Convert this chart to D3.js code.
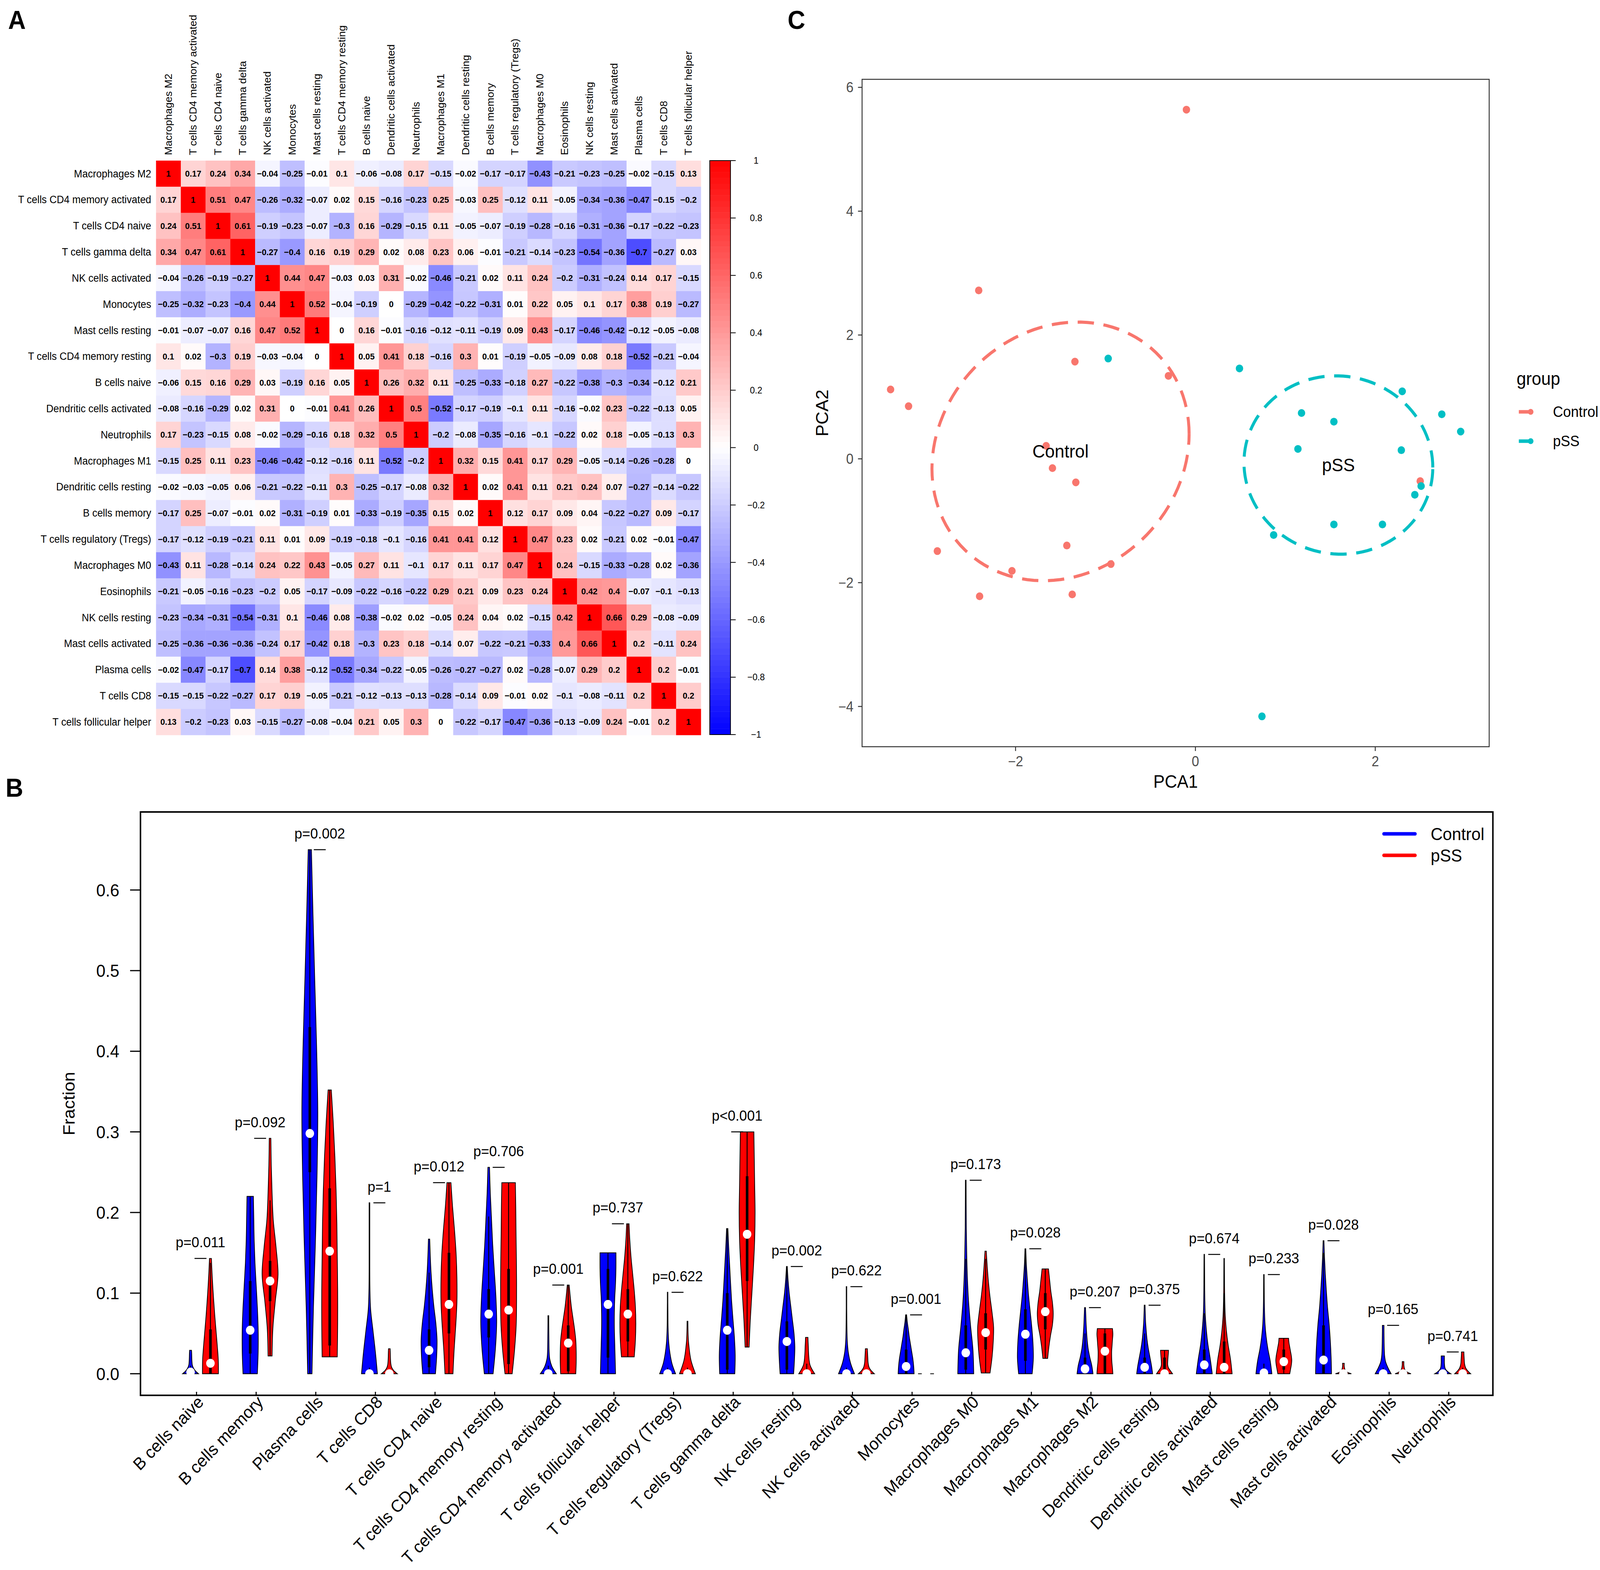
<!DOCTYPE html>
<html>
<head>
<meta charset="utf-8">
<script src="https://cdn.jsdelivr.net/npm/d3@7"></script>
<style>
  html, body { margin: 0; padding: 0; background: #fff; overflow: hidden; }
  svg { display: block; width: 100vw; height: 100vh; }
  text { font-family: "Liberation Sans", Arial, Helvetica, sans-serif; }
</style>
</head>
<body>
<svg id="fig" viewBox="0 0 4317 4018" preserveAspectRatio="none"></svg>
<script>
// ---------- panel A: correlation matrix ----------
const corrCells = [
  "Macrophages M2", "T cells CD4 memory activated", "T cells CD4 naive", "T cells gamma delta",
  "NK cells activated", "Monocytes", "Mast cells resting", "T cells CD4 memory resting",
  "B cells naive", "Dendritic cells activated", "Neutrophils", "Macrophages M1",
  "Dendritic cells resting", "B cells memory", "T cells regulatory (Tregs)", "Macrophages M0",
  "Eosinophils", "NK cells resting", "Mast cells activated", "Plasma cells",
  "T cells CD8", "T cells follicular helper"
];
const corr = [
  [1, 0.17, 0.24, 0.34, -0.04, -0.25, -0.01, 0.1, -0.06, -0.08, 0.17, -0.15, -0.02, -0.17, -0.17, -0.43, -0.21, -0.23, -0.25, -0.02, -0.15, 0.13],
  [0.17, 1, 0.51, 0.47, -0.26, -0.32, -0.07, 0.02, 0.15, -0.16, -0.23, 0.25, -0.03, 0.25, -0.12, 0.11, -0.05, -0.34, -0.36, -0.47, -0.15, -0.2],
  [0.24, 0.51, 1, 0.61, -0.19, -0.23, -0.07, -0.3, 0.16, -0.29, -0.15, 0.11, -0.05, -0.07, -0.19, -0.28, -0.16, -0.31, -0.36, -0.17, -0.22, -0.23],
  [0.34, 0.47, 0.61, 1, -0.27, -0.4, 0.16, 0.19, 0.29, 0.02, 0.08, 0.23, 0.06, -0.01, -0.21, -0.14, -0.23, -0.54, -0.36, -0.7, -0.27, 0.03],
  [-0.04, -0.26, -0.19, -0.27, 1, 0.44, 0.47, -0.03, 0.03, 0.31, -0.02, -0.46, -0.21, 0.02, 0.11, 0.24, -0.2, -0.31, -0.24, 0.14, 0.17, -0.15],
  [-0.25, -0.32, -0.23, -0.4, 0.44, 1, 0.52, -0.04, -0.19, 0, -0.29, -0.42, -0.22, -0.31, 0.01, 0.22, 0.05, 0.1, 0.17, 0.38, 0.19, -0.27],
  [-0.01, -0.07, -0.07, 0.16, 0.47, 0.52, 1, 0, 0.16, -0.01, -0.16, -0.12, -0.11, -0.19, 0.09, 0.43, -0.17, -0.46, -0.42, -0.12, -0.05, -0.08],
  [0.1, 0.02, -0.3, 0.19, -0.03, -0.04, 0, 1, 0.05, 0.41, 0.18, -0.16, 0.3, 0.01, -0.19, -0.05, -0.09, 0.08, 0.18, -0.52, -0.21, -0.04],
  [-0.06, 0.15, 0.16, 0.29, 0.03, -0.19, 0.16, 0.05, 1, 0.26, 0.32, 0.11, -0.25, -0.33, -0.18, 0.27, -0.22, -0.38, -0.3, -0.34, -0.12, 0.21],
  [-0.08, -0.16, -0.29, 0.02, 0.31, 0, -0.01, 0.41, 0.26, 1, 0.5, -0.52, -0.17, -0.19, -0.1, 0.11, -0.16, -0.02, 0.23, -0.22, -0.13, 0.05],
  [0.17, -0.23, -0.15, 0.08, -0.02, -0.29, -0.16, 0.18, 0.32, 0.5, 1, -0.2, -0.08, -0.35, -0.16, -0.1, -0.22, 0.02, 0.18, -0.05, -0.13, 0.3],
  [-0.15, 0.25, 0.11, 0.23, -0.46, -0.42, -0.12, -0.16, 0.11, -0.52, -0.2, 1, 0.32, 0.15, 0.41, 0.17, 0.29, -0.05, -0.14, -0.26, -0.28, 0],
  [-0.02, -0.03, -0.05, 0.06, -0.21, -0.22, -0.11, 0.3, -0.25, -0.17, -0.08, 0.32, 1, 0.02, 0.41, 0.11, 0.21, 0.24, 0.07, -0.27, -0.14, -0.22],
  [-0.17, 0.25, -0.07, -0.01, 0.02, -0.31, -0.19, 0.01, -0.33, -0.19, -0.35, 0.15, 0.02, 1, 0.12, 0.17, 0.09, 0.04, -0.22, -0.27, 0.09, -0.17],
  [-0.17, -0.12, -0.19, -0.21, 0.11, 0.01, 0.09, -0.19, -0.18, -0.1, -0.16, 0.41, 0.41, 0.12, 1, 0.47, 0.23, 0.02, -0.21, 0.02, -0.01, -0.47],
  [-0.43, 0.11, -0.28, -0.14, 0.24, 0.22, 0.43, -0.05, 0.27, 0.11, -0.1, 0.17, 0.11, 0.17, 0.47, 1, 0.24, -0.15, -0.33, -0.28, 0.02, -0.36],
  [-0.21, -0.05, -0.16, -0.23, -0.2, 0.05, -0.17, -0.09, -0.22, -0.16, -0.22, 0.29, 0.21, 0.09, 0.23, 0.24, 1, 0.42, 0.4, -0.07, -0.1, -0.13],
  [-0.23, -0.34, -0.31, -0.54, -0.31, 0.1, -0.46, 0.08, -0.38, -0.02, 0.02, -0.05, 0.24, 0.04, 0.02, -0.15, 0.42, 1, 0.66, 0.29, -0.08, -0.09],
  [-0.25, -0.36, -0.36, -0.36, -0.24, 0.17, -0.42, 0.18, -0.3, 0.23, 0.18, -0.14, 0.07, -0.22, -0.21, -0.33, 0.4, 0.66, 1, 0.2, -0.11, 0.24],
  [-0.02, -0.47, -0.17, -0.7, 0.14, 0.38, -0.12, -0.52, -0.34, -0.22, -0.05, -0.26, -0.27, -0.27, 0.02, -0.28, -0.07, 0.29, 0.2, 1, 0.2, -0.01],
  [-0.15, -0.15, -0.22, -0.27, 0.17, 0.19, -0.05, -0.21, -0.12, -0.13, -0.13, -0.28, -0.14, 0.09, -0.01, 0.02, -0.1, -0.08, -0.11, 0.2, 1, 0.2],
  [0.13, -0.2, -0.23, 0.03, -0.15, -0.27, -0.08, -0.04, 0.21, 0.05, 0.3, 0, -0.22, -0.17, -0.47, -0.36, -0.13, -0.09, 0.24, -0.01, 0.2, 1]
];
const colorTicks = [1, 0.8, 0.6, 0.4, 0.2, 0, -0.2, -0.4, -0.6, -0.8, -1];

// ---------- panel B: violins (Control vs pSS) ----------
const cells = [
  "B cells naive", "B cells memory", "Plasma cells", "T cells CD8", "T cells CD4 naive",
  "T cells CD4 memory resting", "T cells CD4 memory activated", "T cells follicular helper",
  "T cells regulatory (Tregs)", "T cells gamma delta", "NK cells resting", "NK cells activated",
  "Monocytes", "Macrophages M0", "Macrophages M1", "Macrophages M2", "Dendritic cells resting",
  "Dendritic cells activated", "Mast cells resting", "Mast cells activated", "Eosinophils", "Neutrophils"
];
const pLabels = [
  "p=0.011", "p=0.092", "p=0.002", "p=1", "p=0.012", "p=0.706", "p=0.001", "p=0.737",
  "p=0.622", "p<0.001", "p=0.002", "p=0.622", "p=0.001", "p=0.173", "p=0.028", "p=0.207",
  "p=0.375", "p=0.674", "p=0.233", "p=0.028", "p=0.165", "p=0.741"
];
// [min, q1, median, q3, max]
const ctrlStats = [
  [0, 0, 0.002, 0.004, 0.029], [0, 0.025, 0.054, 0.115, 0.22], [0, 0.25, 0.298, 0.43, 0.65],
  [0, 0, 0, 0.003, 0.212], [0, 0.008, 0.029, 0.055, 0.167], [0, 0.045, 0.074, 0.105, 0.256],
  [0, 0, 0, 0.004, 0.072], [0, 0.02, 0.086, 0.13, 0.15], [0, 0, 0, 0.003, 0.101],
  [0, 0.005, 0.054, 0.1, 0.18], [0, 0.005, 0.04, 0.065, 0.133], [0, 0, 0, 0.003, 0.108],
  [0, 0, 0.009, 0.03, 0.073], [0, 0.005, 0.026, 0.06, 0.24], [0, 0.016, 0.049, 0.08, 0.155],
  [0, 0, 0.006, 0.02, 0.082], [0, 0, 0.008, 0.02, 0.085], [0, 0, 0.011, 0.03, 0.148],
  [0, 0, 0.001, 0.005, 0.123], [0, 0, 0.017, 0.06, 0.165], [0, 0, 0, 0.003, 0.06],
  [0, 0, 0, 0.001, 0.022]
];
const pssStats = [
  [0, 0, 0.013, 0.055, 0.143], [0.022, 0.09, 0.115, 0.14, 0.292], [0.021, 0.035, 0.152, 0.23, 0.352],
  [0, 0, 0, 0.002, 0.031], [0, 0.05, 0.086, 0.15, 0.237], [0, 0.012, 0.079, 0.13, 0.237],
  [0, 0.003, 0.038, 0.06, 0.11], [0.021, 0.04, 0.074, 0.105, 0.186], [0, 0, 0, 0.003, 0.065],
  [0.033, 0.115, 0.173, 0.245, 0.3], [0, 0, 0, 0.005, 0.045], [0, 0, 0, 0.002, 0.031],
  [0, 0, 0, 0, 0], [0.001, 0.03, 0.051, 0.075, 0.152], [0.019, 0.055, 0.077, 0.1, 0.13],
  [0, 0, 0.028, 0.05, 0.056], [0, 0, 0, 0.02, 0.029], [0, 0, 0.008, 0.04, 0.143],
  [0, 0.005, 0.015, 0.03, 0.044], [0, 0, 0, 0.001, 0.013], [0, 0, 0, 0.001, 0.015],
  [0, 0, 0, 0.003, 0.027]
];
// relative violin width at 9 evenly spaced levels from min to max
const ctrlShape = [
  [1.0, 0.6, 0.35, 0.22, 0.18, 0.16, 0.15, 0.14, 0.12],
  [0.9, 1.0, 1.0, 0.9, 0.75, 0.6, 0.5, 0.45, 0.4],
  [0.27, 0.45, 0.7, 0.9, 1.0, 0.85, 0.62, 0.4, 0.2],
  [1.0, 0.75, 0.45, 0.15, 0.06, 0.04, 0.04, 0.04, 0.04],
  [0.8, 0.95, 1.0, 0.85, 0.6, 0.4, 0.25, 0.15, 0.08],
  [0.55, 0.85, 1.0, 0.9, 0.7, 0.5, 0.35, 0.2, 0.1],
  [1.0, 0.45, 0.18, 0.1, 0.08, 0.07, 0.06, 0.05, 0.05],
  [0.95, 0.9, 0.85, 0.8, 0.8, 0.85, 0.95, 1.0, 1.0],
  [1.0, 0.55, 0.3, 0.15, 0.08, 0.05, 0.04, 0.03, 0.03],
  [0.95, 1.0, 0.9, 0.72, 0.55, 0.42, 0.3, 0.18, 0.08],
  [0.85, 0.95, 1.0, 0.9, 0.7, 0.5, 0.3, 0.15, 0.05],
  [1.0, 0.5, 0.22, 0.1, 0.06, 0.04, 0.03, 0.03, 0.03],
  [1.0, 0.95, 0.85, 0.7, 0.55, 0.4, 0.28, 0.15, 0.06],
  [1.0, 0.9, 0.6, 0.35, 0.2, 0.12, 0.07, 0.05, 0.04],
  [0.85, 1.0, 0.95, 0.8, 0.6, 0.4, 0.25, 0.12, 0.05],
  [1.0, 0.85, 0.6, 0.4, 0.28, 0.2, 0.14, 0.1, 0.06],
  [1.0, 0.85, 0.65, 0.45, 0.3, 0.2, 0.12, 0.08, 0.05],
  [1.0, 0.75, 0.45, 0.25, 0.12, 0.07, 0.05, 0.04, 0.03],
  [1.0, 0.8, 0.5, 0.28, 0.14, 0.08, 0.05, 0.04, 0.03],
  [1.0, 0.95, 0.85, 0.7, 0.5, 0.35, 0.22, 0.12, 0.05],
  [1.0, 0.6, 0.3, 0.18, 0.14, 0.12, 0.11, 0.1, 0.1],
  [1.0, 0.6, 0.35, 0.25, 0.22, 0.2, 0.2, 0.2, 0.2]
];
const pssShape = [
  [1.0, 0.98, 0.85, 0.7, 0.55, 0.42, 0.3, 0.2, 0.12],
  [0.25, 0.35, 0.65, 1.0, 0.75, 0.4, 0.25, 0.15, 0.1],
  [0.95, 1.0, 1.0, 0.95, 0.9, 0.8, 0.65, 0.45, 0.2],
  [1.0, 0.55, 0.3, 0.2, 0.16, 0.14, 0.13, 0.12, 0.1],
  [0.5, 0.65, 0.85, 1.0, 1.0, 0.9, 0.7, 0.45, 0.25],
  [0.45, 0.75, 0.95, 1.0, 1.0, 0.97, 0.93, 0.9, 0.85],
  [0.95, 1.0, 1.0, 0.95, 0.8, 0.6, 0.4, 0.25, 0.12],
  [0.8, 0.95, 1.0, 0.95, 0.8, 0.6, 0.4, 0.25, 0.15],
  [1.0, 0.7, 0.45, 0.3, 0.2, 0.12, 0.08, 0.06, 0.05],
  [0.25, 0.4, 0.6, 0.8, 0.95, 1.0, 0.95, 0.9, 0.85],
  [1.0, 0.65, 0.4, 0.3, 0.25, 0.22, 0.2, 0.17, 0.15],
  [1.0, 0.6, 0.35, 0.25, 0.2, 0.18, 0.16, 0.14, 0.12],
  [1, 1, 1, 1, 1, 1, 1, 1, 1],
  [0.55, 0.8, 0.95, 1.0, 0.8, 0.55, 0.35, 0.2, 0.08],
  [0.3, 0.45, 0.65, 0.9, 1.0, 0.9, 0.7, 0.55, 0.4],
  [1.0, 0.95, 0.88, 0.85, 0.85, 0.9, 0.95, 1.0, 0.95],
  [1.0, 0.75, 0.5, 0.4, 0.4, 0.42, 0.45, 0.48, 0.5],
  [1.0, 0.8, 0.5, 0.28, 0.14, 0.08, 0.05, 0.04, 0.03],
  [0.75, 0.85, 0.95, 1.0, 0.95, 0.85, 0.75, 0.65, 0.6],
  [1.0, 0.55, 0.3, 0.2, 0.15, 0.12, 0.1, 0.1, 0.1],
  [1.0, 0.55, 0.3, 0.2, 0.15, 0.12, 0.1, 0.1, 0.1],
  [1.0, 0.65, 0.4, 0.28, 0.22, 0.2, 0.18, 0.16, 0.15]
];
const fractionTicks = [0, 0.1, 0.2, 0.3, 0.4, 0.5, 0.6];
const groupsB = ["Control", "pSS"];

// ---------- panel C: PCA ----------
const ctrlPC1 = [-0.10, -2.41, -3.39, -3.19, -1.34, -0.30, -1.66, -1.59, -1.33, -1.43, -2.87, -2.04, -0.94, -2.40, -1.37, 2.50];
const ctrlPC2 = [5.64, 2.72, 1.12, 0.85, 1.57, 1.34, 0.21, -0.15, -0.38, -1.40, -1.49, -1.81, -1.70, -2.22, -2.19, -0.36];
const pssPC1 = [-0.97, 0.49, 2.30, 1.18, 1.54, 2.74, 2.95, 1.14, 2.29, 2.51, 2.44, 1.54, 2.08, 0.87, 0.74];
const pssPC2 = [1.62, 1.46, 1.09, 0.74, 0.60, 0.72, 0.44, 0.16, 0.14, -0.44, -0.58, -1.06, -1.06, -1.23, -4.16];
// ellipse: centre x, centre y, x-radius, y shear, y-radius (data units)
const ellControl = [-1.50, 0.12, 1.43, 0.28, 2.07];
const ellPss = [1.59, -0.10, 1.05, -0.04, 1.44];
const pcaXTicks = [-2, 0, 2];
const pcaYTicks = [-4, -2, 0, 2, 4, 6];
const pcaGroups = ["Control", "pSS"];

const svg = d3.select("#fig");
svg.append("rect").attr("width", 4317).attr("height", 4018).attr("fill", "#fff");
const fmt = v => String(v).replace("-", "\u2212");

// panel letters
svg.selectAll("text.letter")
  .data([["A", 22, 74], ["C", 2125, 74], ["B", 15, 2039]])
  .enter().append("text")
  .attr("class", "letter")
  .attr("x", d => d[1]).attr("y", d => d[2])
  .attr("font-size", 66).attr("font-weight", "bold")
  .text(d => d[0]);

// ================= A =================
const gA = svg.append("g");
const hx = d3.scaleBand().domain(corrCells).range([421, 1891]);
const hy = d3.scaleBand().domain(corrCells).range([411, 1881]);
const heatColor = d3.scaleLinear().domain([-1, 0, 1]).range(["#0000FF", "#FFFFFF", "#FF0000"]);

const cellData = [];
corr.forEach((row, i) => row.forEach((v, j) => cellData.push({r: corrCells[i], c: corrCells[j], v})));

gA.selectAll("rect.cell").data(cellData).enter().append("rect")
  .attr("x", d => hx(d.c)).attr("y", d => hy(d.r))
  .attr("width", hx.bandwidth() + 0.5).attr("height", hy.bandwidth() + 0.5)
  .attr("fill", d => heatColor(d.v));

gA.selectAll("text.val").data(cellData).enter().append("text")
  .attr("x", d => hx(d.c) + hx.bandwidth() / 2)
  .attr("y", d => hy(d.r) + hy.bandwidth() / 2)
  .attr("text-anchor", "middle").attr("dominant-baseline", "central")
  .attr("font-size", 22.5).attr("font-weight", "bold")
  .text(d => fmt(d.v));

gA.selectAll("text.rowlab").data(corrCells).enter().append("text")
  .attr("x", 408).attr("y", d => hy(d) + hy.bandwidth() / 2)
  .attr("text-anchor", "end").attr("dominant-baseline", "central")
  .attr("font-size", 27).text(d => d);

gA.selectAll("text.collab").data(corrCells).enter().append("text")
  .attr("transform", d => `translate(${hx(d) + hx.bandwidth() / 2},397) rotate(-90)`)
  .attr("text-anchor", "start").attr("dominant-baseline", "central")
  .attr("font-size", 27).text(d => d);

// colour legend
const cy = d3.scaleLinear().domain([-1, 1]).range([1880, 411]);
const steps = d3.range(100).map(k => -1 + k * 0.02);
gA.selectAll("rect.leg").data(steps).enter().append("rect")
  .attr("x", 1915).attr("width", 56)
  .attr("y", d => cy(d + 0.02)).attr("height", cy(-1) - cy(-0.98) + 0.5)
  .attr("fill", d => heatColor(d + 0.01));
gA.append("rect").attr("x", 1915).attr("y", 411).attr("width", 56).attr("height", 1469)
  .attr("fill", "none").attr("stroke", "#000").attr("stroke-width", 2);
gA.selectAll("line.ltick").data(colorTicks).enter().append("line")
  .attr("x1", 1971).attr("x2", 1985)
  .attr("y1", d => cy(d)).attr("y2", d => cy(d))
  .attr("stroke", "#000").attr("stroke-width", 2);
gA.selectAll("text.ltick").data(colorTicks).enter().append("text")
  .attr("x", 2040).attr("y", d => cy(d))
  .attr("text-anchor", "middle").attr("dominant-baseline", "central")
  .attr("font-size", 24).text(d => fmt(d));

// ================= B =================
const gB = svg.append("g");
const xB = d3.scaleLinear().domain([-2.52, 65.52]).range([379, 4028]);
const yB = d3.scaleLinear().domain([-0.0268, 0.6968]).range([3571, 2078]);
const colB = {Control: "#0000FF", pSS: "#FF0000"};

const violins = [];
cells.forEach((name, i) => {
  violins.push({i, pos: 3 * i, group: "Control", stat: ctrlStats[i], shape: ctrlShape[i]});
  violins.push({i, pos: 3 * i + 1, group: "pSS", stat: pssStats[i], shape: pssShape[i]});
});

const area = d3.area()
  .y(d => yB(d.v))
  .x0(d => xB(d.pos - 0.4 * d.w))
  .x1(d => xB(d.pos + 0.4 * d.w))
  .curve(d3.curveCatmullRom.alpha(0.5));

const vg = gB.selectAll("g.violin").data(violins).enter().append("g");
vg.append("path")
  .attr("d", d => {
    const [mn, , , , mx] = d.stat;
    const n = d.shape.length - 1;
    return area(d.shape.map((w, k) => ({v: mn + (mx - mn) * k / n, w, pos: d.pos})));
  })
  .attr("fill", d => colB[d.group]).attr("stroke", "#000").attr("stroke-width", 2);
// whiskers
vg.append("line")
  .attr("x1", d => xB(d.pos)).attr("x2", d => xB(d.pos))
  .attr("y1", d => {
    const [mn, q1, , q3] = d.stat;
    return yB(Math.max(mn, q1 - 1.5 * (q3 - q1)));
  })
  .attr("y2", d => {
    const [, q1, , q3, mx] = d.stat;
    return yB(Math.min(mx, q3 + 1.5 * (q3 - q1)));
  })
  .attr("stroke", "#000").attr("stroke-width", 2.5);
// IQR box
vg.append("rect")
  .attr("x", d => xB(d.pos - 0.065)).attr("width", xB(0.13) - xB(0))
  .attr("y", d => yB(d.stat[3])).attr("height", d => yB(d.stat[1]) - yB(d.stat[3]))
  .attr("fill", "#000");
// median
vg.append("circle")
  .attr("cx", d => xB(d.pos)).attr("cy", d => yB(d.stat[2]))
  .attr("r", 11.5).attr("fill", "#fff");

// p-values
const pairMax = cells.map((c, i) => Math.max(ctrlStats[i][4], pssStats[i][4]));
gB.selectAll("line.pseg").data(cells).enter().append("line")
  .attr("x1", (d, i) => xB(3 * i + 0.2)).attr("x2", (d, i) => xB(3 * i + 0.8))
  .attr("y1", (d, i) => yB(pairMax[i])).attr("y2", (d, i) => yB(pairMax[i]))
  .attr("stroke", "#000").attr("stroke-width", 2.5);
gB.selectAll("text.pval").data(pLabels).enter().append("text")
  .attr("x", (d, i) => xB(3 * i + 0.5)).attr("y", (d, i) => yB(pairMax[i] + 0.02))
  .attr("text-anchor", "middle").attr("dominant-baseline", "central")
  .attr("font-size", 37.5).text(d => d);

// frame
gB.append("rect").attr("x", 379).attr("y", 2078).attr("width", 4028 - 379).attr("height", 3571 - 2078)
  .attr("fill", "none").attr("stroke", "#000").attr("stroke-width", 4);

// y axis
gB.selectAll("line.ytick").data(fractionTicks).enter().append("line")
  .attr("x1", 351).attr("x2", 379).attr("y1", d => yB(d)).attr("y2", d => yB(d))
  .attr("stroke", "#000").attr("stroke-width", 3);
gB.selectAll("text.ytick").data(fractionTicks).enter().append("text")
  .attr("x", 322).attr("y", d => yB(d))
  .attr("text-anchor", "end").attr("dominant-baseline", "central")
  .attr("font-size", 45).text(d => d.toFixed(1));
gB.append("text")
  .attr("transform", `translate(185,${(2078 + 3571) / 2}) rotate(-90)`)
  .attr("text-anchor", "middle").attr("dominant-baseline", "central")
  .attr("font-size", 45).text("Fraction");

// x labels
gB.selectAll("line.xtick").data(cells).enter().append("line")
  .attr("x1", (d, i) => xB(3 * i + 0.3)).attr("x2", (d, i) => xB(3 * i + 0.3))
  .attr("y1", 3571).attr("y2", 3562)
  .attr("stroke", "#000").attr("stroke-width", 3);
gB.selectAll("text.xlab").data(cells).enter().append("text")
  .attr("transform", (d, i) => `translate(${xB(3 * i + 0.5)},3580) rotate(-45)`)
  .attr("text-anchor", "end").attr("dominant-baseline", "central")
  .attr("font-size", 44).text(d => d);

// legend
const legB = gB.selectAll("g.legB").data(groupsB).enter().append("g")
  .attr("transform", (d, i) => `translate(0,${2134 + i * 55})`);
legB.append("line").attr("x1", 3734).attr("x2", 3818)
  .attr("stroke", d => colB[d]).attr("stroke-width", 9).attr("stroke-linecap", "round");
legB.append("text").attr("x", 3860).attr("dominant-baseline", "central")
  .attr("font-size", 45).text(d => d);

// ================= C =================
const gC = svg.append("g");
const allX = ctrlPC1.concat(pssPC1), allY = ctrlPC2.concat(pssPC2);
const [x0, x1] = d3.extent(allX), [y0, y1] = d3.extent(allY);
const xC = d3.scaleLinear().domain([x0 - 0.05 * (x1 - x0), x1 + 0.05 * (x1 - x0)]).range([2326, 4018]);
const yC = d3.scaleLinear().domain([y0 - 0.05 * (y1 - y0), y1 + 0.05 * (y1 - y0)]).range([1911, 203]);
const colC = {Control: "#F8766D", pSS: "#00BFC4"};

const ellipses = [
  {group: "Control", p: ellControl},
  {group: "pSS", p: ellPss}
];
const angles = d3.range(0, 361, 3).map(a => a * Math.PI / 180);
const ellLine = d3.line().x(d => xC(d[0])).y(d => yC(d[1]));
gC.selectAll("path.ell").data(ellipses).enter().append("path")
  .attr("d", d => {
    const [cx, cyy, ax, ay, by] = d.p;
    return ellLine(angles.map(t => [cx + ax * Math.cos(t), cyy + ay * Math.cos(t) + by * Math.sin(t)]));
  })
  .attr("fill", "none").attr("stroke", d => colC[d.group])
  .attr("stroke-width", 8).attr("stroke-dasharray", "44 26");

const pts = ctrlPC1.map((x, k) => ({x, y: ctrlPC2[k], group: "Control"}))
  .concat(pssPC1.map((x, k) => ({x, y: pssPC2[k], group: "pSS"})));
gC.selectAll("circle.pt").data(pts).enter().append("circle")
  .attr("cx", d => xC(d.x)).attr("cy", d => yC(d.y)).attr("r", 10)
  .attr("fill", d => colC[d.group]);

gC.selectAll("text.ellLab").data(ellipses).enter().append("text")
  .attr("x", d => xC(d.p[0])).attr("y", d => yC(d.p[1]))
  .attr("text-anchor", "middle").attr("dominant-baseline", "central")
  .attr("font-size", 47).text(d => d.group);

gC.append("rect").attr("x", 2326).attr("y", 203).attr("width", 4018 - 2326).attr("height", 1911 - 203)
  .attr("fill", "none").attr("stroke", "#333").attr("stroke-width", 2.5);

gC.selectAll("line.xt").data(pcaXTicks).enter().append("line")
  .attr("x1", d => xC(d)).attr("x2", d => xC(d)).attr("y1", 1911).attr("y2", 1922)
  .attr("stroke", "#333").attr("stroke-width", 2.5);
gC.selectAll("text.xt").data(pcaXTicks).enter().append("text")
  .attr("x", d => xC(d)).attr("y", 1948)
  .attr("text-anchor", "middle").attr("dominant-baseline", "central")
  .attr("font-size", 36).attr("fill", "#4D4D4D").text(d => fmt(d));
gC.selectAll("line.yt").data(pcaYTicks).enter().append("line")
  .attr("x1", 2315).attr("x2", 2326).attr("y1", d => yC(d)).attr("y2", d => yC(d))
  .attr("stroke", "#333").attr("stroke-width", 2.5);
gC.selectAll("text.yt").data(pcaYTicks).enter().append("text")
  .attr("x", 2303).attr("y", d => yC(d))
  .attr("text-anchor", "end").attr("dominant-baseline", "central")
  .attr("font-size", 36).attr("fill", "#4D4D4D").text(d => fmt(d));

gC.append("text").attr("x", (2326 + 4018) / 2).attr("y", 2000)
  .attr("text-anchor", "middle").attr("dominant-baseline", "central")
  .attr("font-size", 46).text("PCA1");
gC.append("text").attr("transform", `translate(2219,${(203 + 1911) / 2}) rotate(-90)`)
  .attr("text-anchor", "middle").attr("dominant-baseline", "central")
  .attr("font-size", 46).text("PCA2");

gC.append("text").attr("x", 4092).attr("y", 985).attr("font-size", 46).text("group");
const legC = gC.selectAll("g.legC").data(pcaGroups).enter().append("g")
  .attr("transform", (d, i) => `translate(0,${1054 + i * 75})`);
legC.append("line").attr("x1", 4098).attr("x2", 4130)
  .attr("stroke", d => colC[d]).attr("stroke-width", 9);
legC.append("circle").attr("cx", 4130).attr("r", 7.5).attr("fill", d => colC[d]);
legC.append("text").attr("x", 4190).attr("dominant-baseline", "central")
  .attr("font-size", 38).text(d => d);
</script>
</body>
</html>
